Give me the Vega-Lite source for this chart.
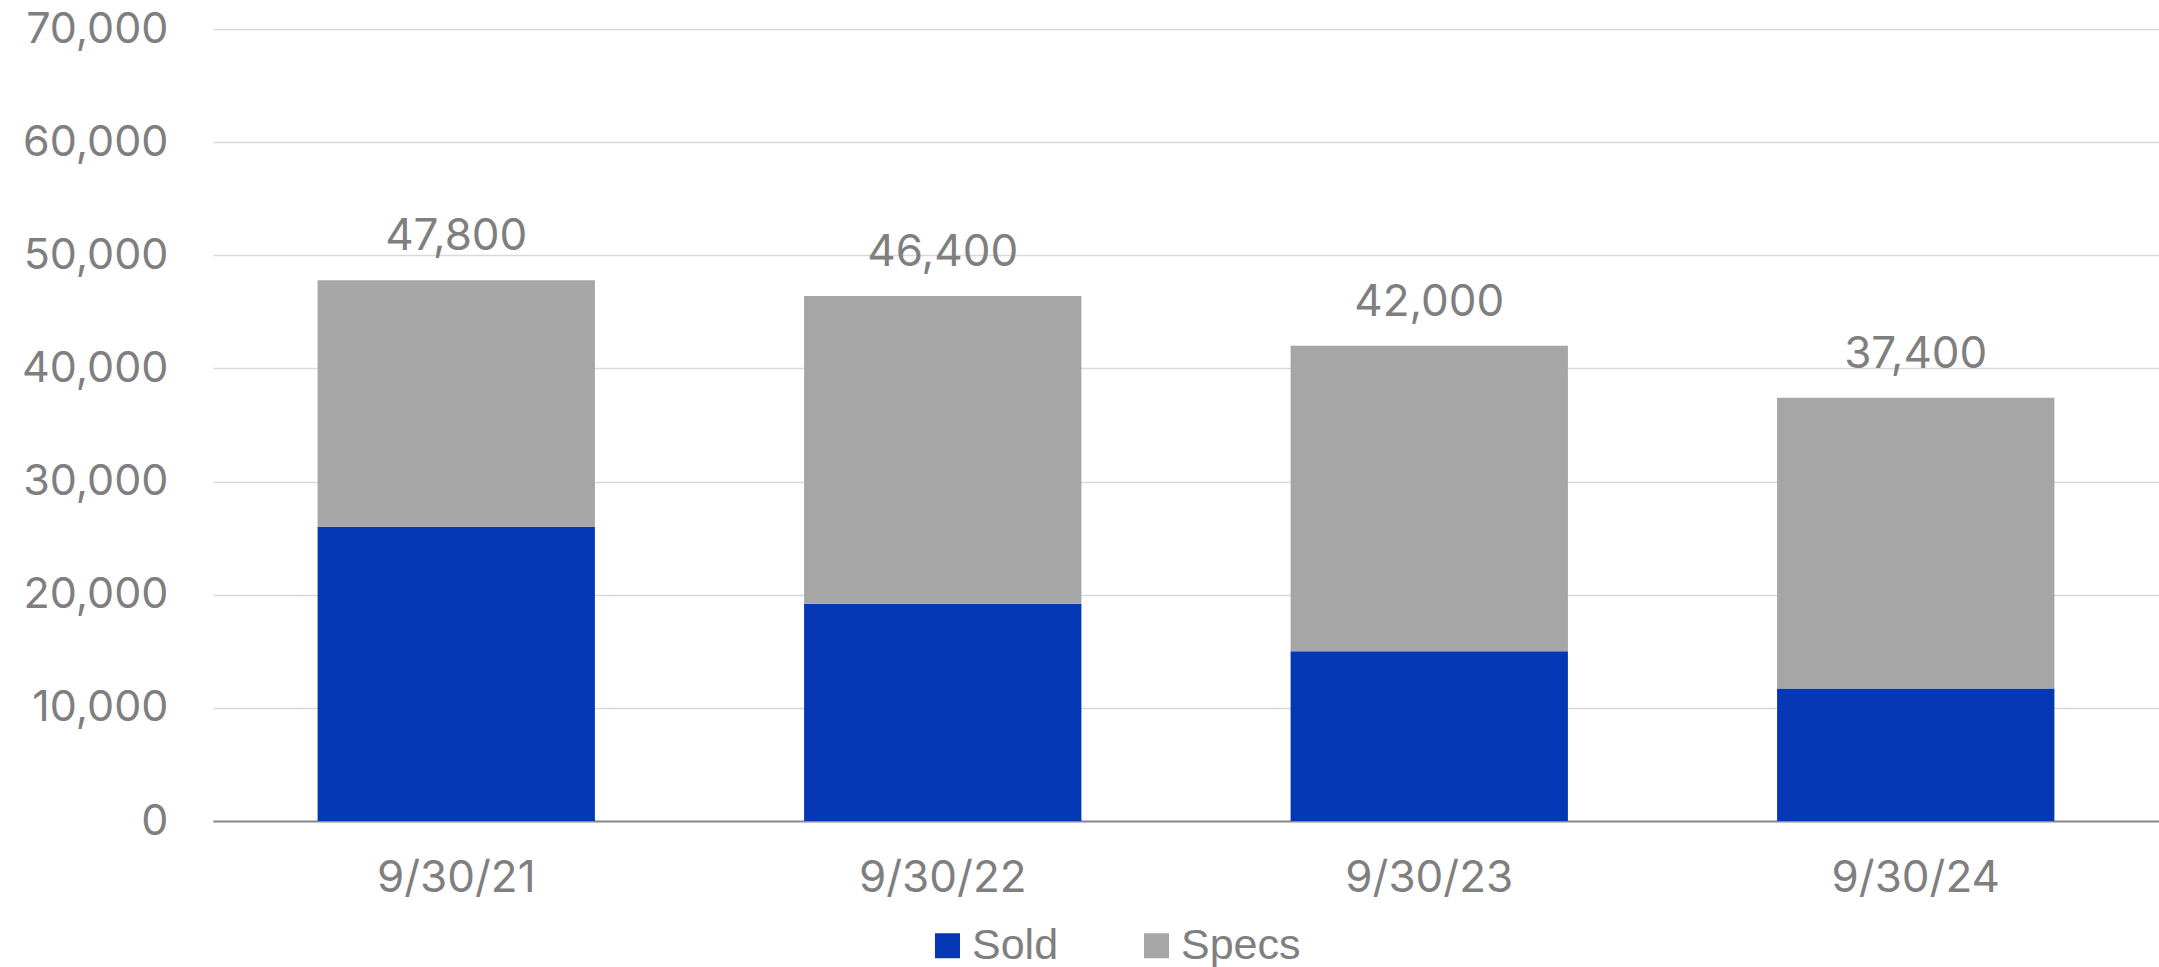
{
  "$schema": "https://vega.github.io/schema/vega-lite/v6.json",
  "autosize": {"type": "none"},
  "width": 1946,
  "height": 792,
  "padding": {"left": 213, "top": 29, "right": 0, "bottom": 146},
  "background": "white",
  "data": {
    "values": [
      {"date": "9/30/21", "type": "Sold", "value": 26000},
      {"date": "9/30/21", "type": "Specs", "value": 21800},
      {"date": "9/30/22", "type": "Sold", "value": 19200},
      {"date": "9/30/22", "type": "Specs", "value": 27200},
      {"date": "9/30/23", "type": "Sold", "value": 15000},
      {"date": "9/30/23", "type": "Specs", "value": 27000},
      {"date": "9/30/24", "type": "Sold", "value": 11700},
      {"date": "9/30/24", "type": "Specs", "value": 25700}
    ]
  },
  "config": {
    "view": {"stroke": null},
    "font": "Inter"
  },
  "layer": [
    {
      "mark": {"type": "bar"},
      "encoding": {
        "x": {
          "field": "date", "type": "nominal", "sort": null,
          "scale": {"paddingInner": 0.43, "paddingOuter": 0.215},
          "axis": {
            "title": null, "labelAngle": 0, "ticks": false,
            "domainColor": "#898989", "domainWidth": 2,
            "labelFont": "Inter", "labelFontSize": 44, "labelColor": "#7f7f7f",
            "labelPadding": 35, "labelFontWeight": "normal"
          }
        },
        "y": {
          "field": "value", "type": "quantitative", "aggregate": "sum", "stack": "zero",
          "scale": {"domain": [0, 70000], "nice": false},
          "axis": {
            "title": null, "values": [0, 10000, 20000, 30000, 40000, 50000, 60000, 70000],
            "format": ",.0f", "ticks": false, "domain": false,
            "gridColor": "#d9d9d9", "gridWidth": 1.5,
            "labelFont": "Inter", "labelFontSize": 43, "labelColor": "#7f7f7f",
            "labelPadding": 45, "labelFontWeight": "normal"
          }
        },
        "color": {
          "field": "type", "type": "nominal",
          "scale": {"domain": ["Sold", "Specs"], "range": ["#0537b4", "#a6a6a6"]},
          "legend": {
            "title": null, "orient": "none", "direction": "horizontal",
            "legendX": 713, "legendY": 895,
            "symbolType": "square", "symbolSize": 625, "symbolStrokeWidth": 0,
            "labelFont": "Liberation Sans", "labelFontSize": 43, "labelColor": "#7f7f7f",
            "labelOffset": 3, "columnPadding": 76
          }
        },
        "order": {"field": "type", "sort": "ascending"}
      }
    },
    {
      "transform": [{"aggregate": [{"op": "sum", "field": "value", "as": "total"}], "groupby": ["date"]}],
      "mark": {"type": "text", "baseline": "bottom", "dy": -21, "fontSize": 44, "color": "#7f7f7f", "font": "Inter"},
      "encoding": {
        "x": {"field": "date", "type": "nominal", "sort": null},
        "y": {"field": "total", "type": "quantitative"},
        "text": {"field": "total", "type": "quantitative", "format": ","}
      }
    }
  ]
}
